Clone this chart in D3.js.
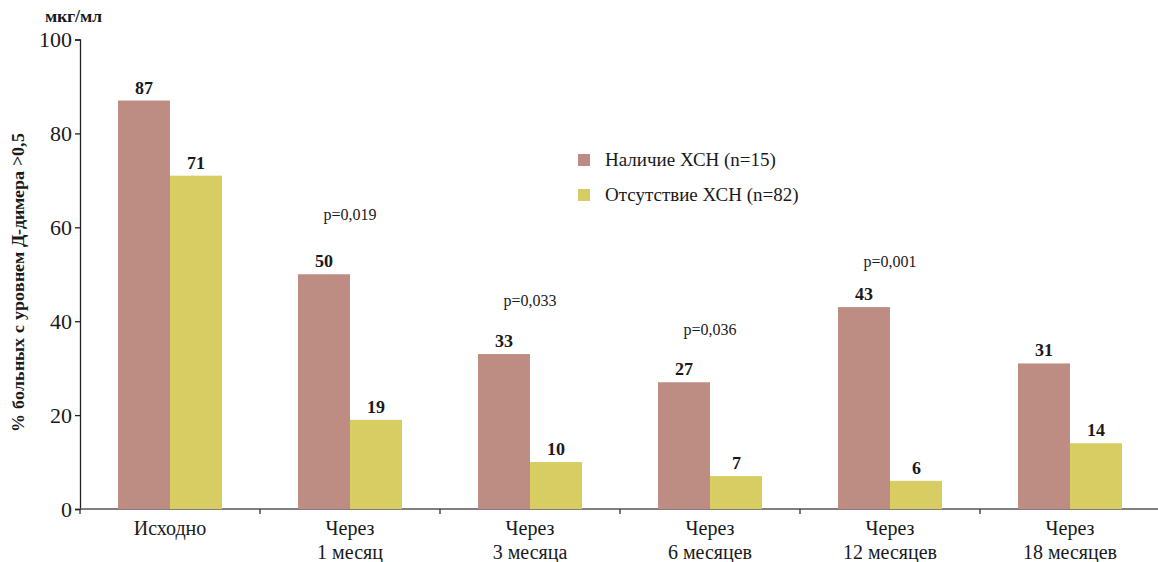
<!DOCTYPE html>
<html>
<head>
<meta charset="utf-8">
<script src="https://cdn.jsdelivr.net/npm/d3@7"></script>
<style>
  @font-face { font-family: "ChartSerif"; font-weight: normal; src: local("Liberation Serif"), local("LiberationSerif"), local("LiberationSerif-Regular"); }
  @font-face { font-family: "ChartSerif"; font-weight: bold; src: local("Liberation Serif Bold"), local("LiberationSerif-Bold"); }
  body { margin: 0; background: #fff; }
</style>
</head>
<body>
<div id="chart"></div>
<script>
// data
const categories = [["Исходно"], ["Через", "1 месяц"], ["Через", "3 месяца"], ["Через", "6 месяцев"], ["Через", "12 месяцев"], ["Через", "18 месяцев"]];
const seriesNames = ["Наличие ХСН (n=15)", "Отсутствие ХСН (n=82)"];
const withHF = [87, 50, 33, 27, 43, 31];
const withoutHF = [71, 19, 10, 7, 6, 14];
const pLabels = ["", "p=0,019", "p=0,033", "p=0,036", "p=0,001", ""];
const pLevels = [null, 61.5, 43.3, 37, 51.5, null];
const yTicks = [0, 20, 40, 60, 80, 100];
const colors = ["#bd8c82", "#d8cd62"];

const FONT = "ChartSerif, 'Liberation Serif', 'Times New Roman', serif";
const FONT_REG = "'Times New Roman', 'Liberation Serif', 'DejaVu Serif', serif";
const width = 1158, height = 562;
const margin = {top: 40, right: -2, bottom: 53, left: 80};

const svg = d3.select("#chart").append("svg")
  .attr("width", width)
  .attr("height", height);

const x = d3.scaleBand()
  .domain(d3.range(categories.length))
  .range([margin.left, width - margin.right])
  .paddingInner(0).paddingOuter(0);

const x1 = d3.scaleBand()
  .domain([0, 1])
  .range([0, x.bandwidth()])
  .paddingInner(0).paddingOuter(0.73);

const y = d3.scaleLinear()
  .domain([0, 100])
  .range([height - margin.bottom, margin.top - 0.5]);

// y axis
const yAxis = svg.append("g")
  .attr("transform", `translate(${margin.left},0)`)
  .call(d3.axisLeft(y).tickValues(yTicks).tickSize(5).tickPadding(3));
yAxis.attr("font-family", null).attr("font-size", null);
yAxis.select(".domain").attr("stroke", "#222").attr("stroke-width", 1.3);
yAxis.selectAll(".tick line").attr("stroke", "#222").attr("stroke-width", 1.3);
yAxis.selectAll(".tick text")
  .style("font-family", FONT_REG).style("font-size", "22px")
  .attr("fill", "#1a1a1a");

// x axis with ticks between groups
const xAxisG = svg.append("g")
  .attr("transform", `translate(0,${y(0)})`);
xAxisG.append("line")
  .attr("x1", margin.left).attr("x2", width)
  .attr("stroke", "#555").attr("stroke-width", 1.5);
xAxisG.selectAll("line.tk")
  .data(d3.range(categories.length + 1))
  .join("line")
  .attr("class", "tk")
  .attr("x1", d => margin.left + d * x.bandwidth())
  .attr("x2", d => margin.left + d * x.bandwidth())
  .attr("y1", 0).attr("y2", 5)
  .attr("stroke", "#333").attr("stroke-width", 1.3);

// bars
const groups = svg.selectAll("g.grp")
  .data(categories.map((c, i) => ({i, vals: [withHF[i], withoutHF[i]]})))
  .join("g")
  .attr("class", "grp")
  .attr("transform", d => `translate(${x(d.i)},0)`);

groups.selectAll("rect")
  .data(d => d.vals.map((v, k) => ({v, k})))
  .join("rect")
  .attr("x", d => x1(d.k))
  .attr("width", x1.bandwidth())
  .attr("y", d => y(d.v))
  .attr("height", d => y(0) - y(d.v))
  .attr("fill", d => colors[d.k]);

groups.selectAll("text.val")
  .data(d => d.vals.map((v, k) => ({v, k})))
  .join("text")
  .attr("class", "val")
  .attr("x", d => x1(d.k) + x1.bandwidth() / 2)
  .attr("y", d => y(d.v) - 7)
  .attr("text-anchor", "middle")
  .style("font-family", FONT).style("font-size", "18px").style("font-weight", "bold")
  .attr("fill", "#1a1a1a")
  .text(d => d.v);

// category labels
groups.each(function(d) {
  const t = d3.select(this).append("text")
    .attr("x", x.bandwidth() / 2)
    .attr("y", y(0) + 26)
    .attr("text-anchor", "middle")
    .style("font-family", FONT_REG).style("font-size", "20px")
    .attr("fill", "#1a1a1a");
  categories[d.i].forEach((line, j) => {
    t.append("tspan")
      .attr("x", x.bandwidth() / 2)
      .attr("dy", j === 0 ? 0 : 24)
      .text(line);
  });
});

// p-values
svg.selectAll("text.pval")
  .data(pLabels.map((p, i) => ({p, i})).filter(d => d.p))
  .join("text")
  .attr("class", "pval")
  .attr("x", d => x(d.i) + x.bandwidth() / 2)
  .attr("y", d => y(pLevels[d.i]))
  .attr("text-anchor", "middle")
  .style("font-family", FONT_REG).style("font-size", "16px")
  .attr("fill", "#1a1a1a")
  .text(d => d.p);

// legend
const legend = svg.append("g").attr("transform", "translate(578,160)");
seriesNames.forEach((name, k) => {
  legend.append("rect")
    .attr("x", 0).attr("y", k * 35 - 6)
    .attr("width", 12).attr("height", 12)
    .attr("fill", colors[k]);
  legend.append("text")
    .attr("x", 27).attr("y", k * 35 + 6)
    .style("font-family", FONT_REG).style("font-size", "19px")
    .attr("fill", "#1a1a1a")
    .text(name);
});

// axis title and unit
svg.append("text")
  .attr("transform", `translate(24,${(y(0) + y(100)) / 2 + 8}) rotate(-90)`)
  .attr("text-anchor", "middle")
  .style("font-family", FONT).style("font-size", "18px").style("font-weight", "bold")
  .attr("fill", "#1a1a1a")
  .text("% больных с уровнем Д-димера >0,5");

svg.append("text")
  .attr("x", 73).attr("y", 22)
  .attr("text-anchor", "middle")
  .style("font-family", FONT).style("font-size", "18px").style("font-weight", "bold")
  .attr("fill", "#1a1a1a")
  .text("мкг/мл");
</script>
</body>
</html>
